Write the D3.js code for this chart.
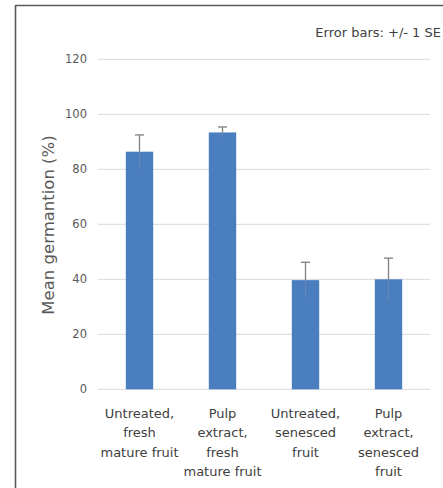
<!DOCTYPE html>
<html>
<head>
<meta charset="utf-8">
<script src="https://cdn.jsdelivr.net/npm/d3@7"></script>
<style>
  html, body { margin: 0; padding: 0; background: #fff; }
  svg { display: block; font-family: "DejaVu Sans", "Noto Sans", sans-serif; }
</style>
</head>
<body>
<svg id="chart" width="443" height="488"></svg>
<script>
const categories = [
  ["Untreated,", "fresh", "mature fruit"],
  ["Pulp", "extract,", "fresh", "mature fruit"],
  ["Untreated,", "senesced", "fruit"],
  ["Pulp", "extract,", "senesced", "fruit"]
];
const categoryKeys = ["A", "B", "C", "D"];
const means = [86.4, 93.4, 39.7, 40.0];
const errors = [6.1, 2.0, 6.5, 7.7];
const yTicks = [0, 20, 40, 60, 80, 100, 120];
const yTitle = "Mean germantion (%)";
const note = "Error bars: +/- 1 SE";

const svg = d3.select("#chart");
const W = 443, H = 488;
const plot = { left: 98, right: 430, top: 59.3, bottom: 389.3 };

// frame
svg.append("line").attr("x1", 15.5).attr("x2", W).attr("y1", 5.5).attr("y2", 5.5)
  .attr("stroke", "#5a5a5a").attr("stroke-width", 1.6);
svg.append("line").attr("x1", 15.5).attr("x2", 15.5).attr("y1", 5).attr("y2", H)
  .attr("stroke", "#5a5a5a").attr("stroke-width", 1.6);

const x = d3.scaleBand().domain(categoryKeys).range([plot.left, plot.right]).paddingInner(0.67).paddingOuter(0.335);
const y = d3.scaleLinear().domain([0, 120]).range([plot.bottom, plot.top]);

// gridlines
svg.append("g").selectAll("line").data(yTicks).join("line")
  .attr("x1", plot.left).attr("x2", plot.right)
  .attr("y1", d => y(d)).attr("y2", d => y(d))
  .attr("stroke", "#d9d9d9").attr("stroke-width", 1);

// y axis labels
const yAxis = d3.axisLeft(y).tickValues(yTicks).tickSize(0).tickPadding(0);
const ya = svg.append("g").attr("transform", `translate(${plot.left - 11},0)`).call(yAxis);
ya.select(".domain").remove();
ya.selectAll("text").attr("fill", "#595959").attr("font-size", 11.5)
  .attr("font-family", "DejaVu Sans, sans-serif");

// bars
svg.append("g").selectAll("rect").data(means).join("rect")
  .attr("x", (d, i) => x(categoryKeys[i]))
  .attr("width", x.bandwidth())
  .attr("y", d => y(d))
  .attr("height", d => y(0) - y(d))
  .attr("fill", "#4a7ebf");

// error bars
const eg = svg.append("g");
means.forEach((m, i) => {
  const cx = x(categoryKeys[i]) + x.bandwidth() / 2;
  eg.append("line").attr("x1", cx).attr("x2", cx)
    .attr("y1", y(m)).attr("y2", y(m + errors[i]))
    .attr("stroke", "#7f7f7f").attr("stroke-width", 1.3);
  eg.append("line").attr("x1", cx).attr("x2", cx)
    .attr("y1", y(m)).attr("y2", y(m - errors[i]))
    .attr("stroke", "#7f8fa8").attr("stroke-width", 1).attr("opacity", 0.6);
  eg.append("line").attr("x1", cx - 4.5).attr("x2", cx + 4.5)
    .attr("y1", y(m + errors[i])).attr("y2", y(m + errors[i]))
    .attr("stroke", "#7f7f7f").attr("stroke-width", 1.3);
});

// category labels
const cg = svg.append("g");
categories.forEach((lines, i) => {
  const cx = x(categoryKeys[i]) + x.bandwidth() / 2;
  const t = cg.append("text").attr("text-anchor", "middle")
    .attr("fill", "#404040").attr("font-size", 13)
    .attr("font-family", "DejaVu Sans, sans-serif");
  lines.forEach((ln, j) => {
    t.append("tspan").attr("x", cx).attr("y", 417.5 + j * 19.5).text(ln);
  });
});

// y title
svg.append("text")
  .attr("transform", `translate(54,225) rotate(-90)`)
  .attr("text-anchor", "middle")
  .attr("fill", "#595959").attr("font-size", 16.5)
  .attr("font-family", "DejaVu Sans, sans-serif")
  .text(yTitle);

// note
svg.append("text").attr("x", 441).attr("y", 37).attr("text-anchor", "end")
  .attr("fill", "#404040").attr("font-size", 13)
  .attr("font-family", "DejaVu Sans, sans-serif")
  .text(note);
</script>
</body>
</html>
